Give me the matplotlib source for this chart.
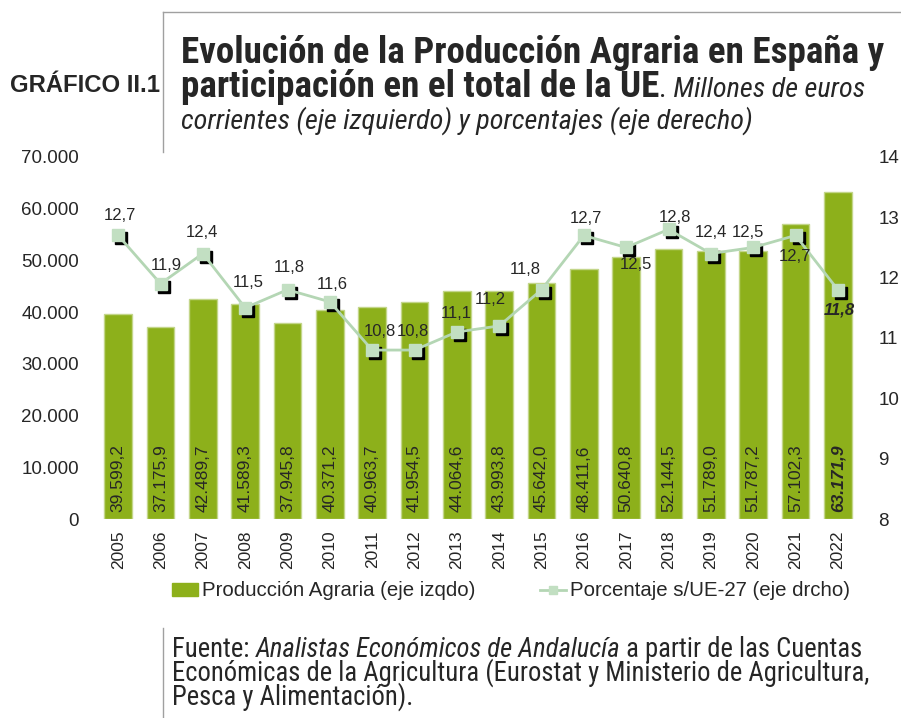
import matplotlib
matplotlib.use("Agg")
import matplotlib.pyplot as plt
from matplotlib import font_manager as fm
from matplotlib.transforms import IdentityTransform, offset_copy
from matplotlib.lines import Line2D
from matplotlib.patches import Patch

# ---------------- data ----------------
years = ["2005", "2006", "2007", "2008", "2009", "2010", "2011", "2012", "2013",
         "2014", "2015", "2016", "2017", "2018", "2019", "2020", "2021", "2022"]
produccion = [39599.2, 37175.9, 42489.7, 41589.3, 37945.8, 40371.2, 40963.7, 41954.5,
              44064.6, 43993.8, 45642.0, 48411.6, 50640.8, 52144.5, 51789.0, 51787.2,
              57102.3, 63171.9]
porcentaje = [12.7, 11.9, 12.4, 11.5, 11.8, 11.6, 10.8, 10.8, 11.1, 11.2, 11.8, 12.7,
              12.5, 12.8, 12.4, 12.5, 12.7, 11.8]
left_ticks = [0, 10000, 20000, 30000, 40000, 50000, 60000, 70000]
right_ticks = [8, 9, 10, 11, 12, 13, 14]

# label offsets (pixels) for percentage labels
pct_offsets = [(2, 20), (6, 18), (-1, 21), (3, 25), (2, 22), (2, 17), (8, 19), (-2, 19),
               (-1, 18), (-9, 26), (-16, 20), (2, 17), (10, -17), (6, 12), (0, 21),
               (-5, 15), (-1, -21), (1, -20)]

ttf = fm.fontManager.ttflist
names = {f.name for f in ttf}
SANS = "Liberation Sans" if "Liberation Sans" in names else "DejaVu Sans"
# look for a condensed family
COND, COND_STRETCH = SANS, "normal"
for pref in ("Liberation Sans Narrow", "Roboto Condensed", "Open Sans Condensed",
             "Noto Sans Condensed", "DejaVu Sans Condensed"):
    if pref in names:
        COND = pref
        break
else:
    for f in ttf:
        if str(f.stretch) in ("condensed", "semi-condensed", "extra-condensed") or \
                (isinstance(f.stretch, int) and f.stretch < 500):
            COND, COND_STRETCH = f.name, f.stretch
            break
plt.rcParams["font.family"] = [SANS, "DejaVu Sans"]

BAR = "#8db01b"
BAR_EDGE = "#c3d68a"
LINE = "#b4d6b4"
MARK = "#c2dfc2"
TXT = "#262626"

W, H = 901, 718
fig = plt.figure(figsize=(W / 100, H / 100), dpi=100)
ax = fig.add_axes([97 / W, 1 - 519 / H, 762 / W, 362 / H])
ax2 = ax.twinx()

x = list(range(len(years)))
ax.bar(x, produccion, width=0.66, color=BAR, edgecolor=BAR_EDGE, linewidth=1.0, zorder=2)
ax.set_xlim(-0.5, len(years) - 0.5)
ax.set_ylim(0, 70000)
ax.set_yticks(left_ticks)
ax.set_yticklabels([f"{v:,}".replace(",", ".") for v in left_ticks])
ax.set_xticks(x)
ax.set_xticklabels(years, rotation=90)
ax.tick_params(axis="both", length=0, labelsize=13.5, colors=TXT)
ax.tick_params(axis="y", pad=13)
ax.tick_params(axis="x", pad=8, labelsize=12.5)

# bar value labels
lbl_tr = offset_copy(ax.transData, fig=fig, x=0, y=7, units="dots")
for i, v in enumerate(produccion):
    s = f"{v:,.1f}".replace(",", "X").replace(".", ",").replace("X", ".")
    last = i == len(produccion) - 1
    ax.text(i, 0, s, rotation=90, ha="center", va="bottom", fontsize=12.5, color=TXT,
            fontweight="bold" if last else "normal", fontstyle="italic" if last else "normal",
            transform=lbl_tr, zorder=3)

# line with shadowed markers
shadow_tr = offset_copy(ax2.transData, fig=fig, x=3, y=-3, units="dots")
ax2.plot(x, porcentaje, linestyle="none", marker="s", markersize=9, color="black",
         transform=shadow_tr, zorder=3)
ax2.plot(x, porcentaje, color=LINE, linewidth=2, marker="s", markersize=9,
         markerfacecolor=MARK, markeredgecolor=MARK, zorder=4)
ax2.set_ylim(8, 14)
ax2.set_yticks(right_ticks)
ax2.tick_params(axis="y", length=0, labelsize=13.5, colors=TXT, pad=14)
for i, p in enumerate(porcentaje):
    last = i == len(porcentaje) - 1
    dx, dy = pct_offsets[i]
    ax2.annotate(f"{p:.1f}".replace(".", ","), (i, p), xytext=(dx, dy),
                 textcoords="offset pixels", ha="center", va="center", fontsize=12,
                 color=TXT, fontweight="bold" if last else "normal",
                 fontstyle="italic" if last else "normal", zorder=5)

for a in (ax, ax2):
    for sp in a.spines.values():
        sp.set_visible(False)

# legend
handles = [Patch(facecolor=BAR, edgecolor=BAR),
           Line2D([], [], color=LINE, linewidth=2, marker="s", markersize=6,
                  markerfacecolor=MARK, markeredgecolor=MARK)]
fig.legend(handles, ["Producción Agraria (eje izqdo)", "Porcentaje s/UE-27 (eje drcho)"],
           loc="center", bbox_to_anchor=(511 / W, 1 - 591 / H), ncol=2, frameon=False,
           fontsize=14.7, handlelength=1.25, handleheight=0.6, handletextpad=0.2,
           columnspacing=3.2, labelcolor=TXT)

# header / footer rules
GRAY = "#a0a0a0"
fig.add_artist(Line2D([163 / W, 163 / W], [1 - 12 / H, 1 - 152 / H], color=GRAY, lw=1))
fig.add_artist(Line2D([163 / W, 1.0], [1 - 12 / H, 1 - 12 / H], color=GRAY, lw=1))
fig.add_artist(Line2D([163 / W, 163 / W], [1 - 628 / H, 0.0], color=GRAY, lw=1))

fig.canvas.draw()
renderer = fig.canvas.get_renderer()


def text_w(s, **kw):
    t = fig.text(0, 0, s, transform=IdentityTransform(), **kw)
    w = t.get_window_extent(renderer).width
    t.remove()
    return w


def fit_size(s, target, **kw):
    base = 20
    return base * target / text_w(s, fontsize=base, **kw)


def runs(x0, y_img, parts):
    xx = x0
    for s, kw in parts:
        fig.text(xx, H - y_img, s, transform=IdentityTransform(), va="baseline",
                 ha="left", color=TXT, **kw)
        lead = len(s) - len(s.lstrip(" "))
        trail = len(s) - len(s.rstrip(" "))
        core = s.strip(" ")
        sp = text_w("a a", **kw) - text_w("aa", **kw)
        xx += text_w(core, **kw) + (lead + trail) * sp


cf = dict(family=[COND, SANS], stretch=COND_STRETCH)

gk = dict(fontweight="bold", family=[SANS])
g_size = fit_size("GRÁFICO II.1", 150, **gk)
fig.text(10, H - 92, "GRÁFICO II.1", transform=IdentityTransform(), va="baseline",
         ha="left", fontsize=g_size, color=TXT, **gk)

bk = dict(fontweight="bold", **cf)
ik = dict(fontstyle="italic", **cf)
tb_size = fit_size("Evolución de la Producción Agraria en España y", 702, **bk)
ti_size = fit_size("corrientes (eje izquierdo) y porcentajes (eje derecho)", 571, **ik)
tb = dict(fontsize=tb_size, **bk)
ti = dict(fontsize=ti_size, **ik)
runs(181, 63, [("Evolución de la Producción Agraria en España y", tb)])
runs(181, 97, [("participación en el total de la UE", tb),
               (".", dict(fontsize=ti_size, **cf)),
               (" Millones de euros", ti)])
runs(181, 129, [("corrientes (eje izquierdo) y porcentajes (eje derecho)", ti)])

f_size = fit_size("Económicas de la Agricultura (Eurostat y Ministerio de Agricultura,", 695, **cf)
fn = dict(fontsize=f_size, **cf)
fi = dict(fontsize=f_size, fontstyle="italic", **cf)
runs(172, 657, [("Fuente: ", fn), ("Analistas Económicos de Andalucía", fi),
                (" a partir de las Cuentas", fn)])
runs(172, 681, [("Económicas de la Agricultura (Eurostat y Ministerio de Agricultura,", fn)])
runs(172, 705, [("Pesca y Alimentación).", fn)])

fig.savefig("out.png", dpi=100)
